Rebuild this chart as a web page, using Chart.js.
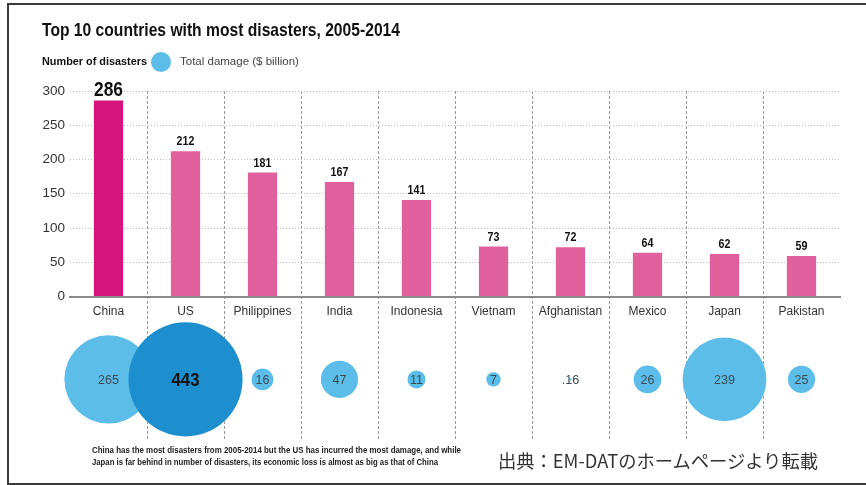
<!DOCTYPE html>
<html>
<head>
<meta charset="utf-8">
<script src="https://cdn.jsdelivr.net/npm/chart.js@4"></script>
<style>
  body { margin: 0; background: #fff; }
  #wrap { position: relative; width: 866px; height: 485px; overflow: hidden; background: #fff; }
  #frame { position: absolute; left: 7px; top: 3px; width: 880px; height: 478px;
    border-left: 2px solid #3a3a3a; border-top: 2px solid #3a3a3a; border-bottom: 2px solid #3a3a3a; }
  canvas { position: absolute; left: 0; top: 0; }
  .t { position: absolute; white-space: nowrap; color: #111; transform-origin: 0 0; }
  #title { left: 42px; top: 19px; font: bold 18.5px 'Liberation Sans', sans-serif; }
  #leg1 { left: 42px; top: 55px; font: bold 11.5px 'Liberation Sans', sans-serif; }
  #dot { position: absolute; left: 151px; top: 52px; width: 20px; height: 20px; border-radius: 50%; background: #5cbde8; }
  #leg2 { left: 180px; top: 55px; font: 11.5px 'Liberation Sans', sans-serif; color: #444; }
  .note { left: 92px; font: bold 9.5px 'Liberation Sans', sans-serif; color: #222; }
  #note1 { top: 444px; }
  #note2 { top: 456px; }
  #src { left: 498px; top: 447px; font: 18.3px 'Noto Sans CJK JP', sans-serif; color: #333; }
</style>
</head>
<body>
<div id="wrap">
  <div id="frame"></div>
  <canvas id="chart" width="866" height="485"></canvas>
  <div class="t" id="title" data-w="358">Top 10 countries with most disasters, 2005-2014</div>
  <div class="t" id="leg1" data-w="105">Number of disasters</div>
  <div id="dot"></div>
  <div class="t" id="leg2">Total damage ($ billion)</div>
  <div class="t note" id="note1" data-w="369">China has the most disasters from 2005-2014 but the US has incurred the most damage, and while</div>
  <div class="t note" id="note2" data-w="346">Japan is far behind in number of disasters, its economic loss is almost as big as that of China</div>
  <div class="t" id="src">出典：EM-DATのホームページより転載</div>
</div>
<script>
const countries = ['China', 'US', 'Philippines', 'India', 'Indonesia', 'Vietnam', 'Afghanistan', 'Mexico', 'Japan', 'Pakistan'];
const disasters = [286, 212, 181, 167, 141, 73, 72, 64, 62, 59];
const damage = [265, 443, 16, 47, 11, 7, 0.16, 26, 239, 25];
const yTicks = [0, 50, 100, 150, 200, 250, 300];

const bubbleRowY = -121;   // where the bubble row sits below the axis
const bubbleScale = 2.71;  // radius in px per sqrt($ billion)

// squeeze the bold headings to look like a condensed face
document.querySelectorAll('[data-w]').forEach(el => {
    const w = el.getBoundingClientRect().width;
    el.style.transform = 'scaleX(' + (el.dataset.w / w) + ')';
});

function fmtDamage(v) {
    return v < 1 ? String(v).replace(/^0/, '') : String(v);
}

function squeezeText(ctx, text, x, y, sx) {
    ctx.save();
    ctx.translate(x, y);
    ctx.scale(sx, 1);
    ctx.fillText(text, 0, 0);
    ctx.restore();
}

const labelPlugin = {
    id: 'labels',
    afterDatasetsDraw(chart) {
        const ctx = chart.ctx;
        ctx.save();
        ctx.textAlign = 'center';

        chart.getDatasetMeta(0).data.forEach((bar, i) => {
            const big = i === 0;
            ctx.font = big ? 'bold 20px "Liberation Sans", sans-serif' : 'bold 13px "Liberation Sans", sans-serif';
            ctx.fillStyle = '#111';
            ctx.textBaseline = 'alphabetic';
            squeezeText(ctx, disasters[i], bar.x, bar.y - (big ? 5 : 6), big ? 0.87 : 0.82);
        });

        const maxDamage = Math.max(...damage);
        chart.getDatasetMeta(1).data.forEach((pt, i) => {
            const big = damage[i] === maxDamage;
            ctx.fillStyle = big ? '#111' : '#3a4a55';
            ctx.textBaseline = 'middle';
            if (big) {
                ctx.font = 'bold 19px "Liberation Sans", sans-serif';
                squeezeText(ctx, fmtDamage(damage[i]), pt.x, pt.y + 1, 0.88);
            } else {
                ctx.font = '12.5px "Liberation Sans", sans-serif';
                ctx.fillText(fmtDamage(damage[i]), pt.x, pt.y + 1);
            }
        });
        ctx.restore();
    }
};

new Chart(document.getElementById('chart'), {
    data: {
        labels: countries,
        datasets: [{
            type: 'bar',
            data: disasters,
            backgroundColor: countries.map((c, i) => i === 0 ? '#d6157c' : '#e0609e'),
            categoryPercentage: 1,
            barPercentage: 0.38
        }, {
            type: 'bubble',
            data: countries.map((c, i) => ({ x: c, y: bubbleRowY, r: Math.sqrt(damage[i]) * bubbleScale })),
            backgroundColor: damage.map(v => v === Math.max(...damage) ? '#1d8fcf' : '#5cbde8'),
            borderWidth: 0
        }]
    },
    options: {
        responsive: false,
        animation: false,
        events: [],
        layout: { autoPadding: false, padding: { left: 0, top: 91, right: 26, bottom: 46 } },
        plugins: { legend: { display: false }, title: { display: false }, tooltip: { enabled: false } },
        scales: {
            x: {
                type: 'category',
                position: { y: 0 },
                offset: true,
                grid: {
                    offset: true,
                    drawTicks: false,
                    // only the separators between countries, not the outer edges
                    color: ctx => (ctx.type !== 'tick' || ctx.index === 0) ? 'rgba(0,0,0,0)' : '#9a9a9a',
                    lineWidth: 1
                },
                border: { display: true, color: '#8a8a8a', width: 2, dash: [3, 2] },
                ticks: {
                    padding: 8,
                    color: '#333',
                    font: { family: 'Liberation Sans', size: 12 },
                    maxRotation: 0,
                    autoSkip: false
                }
            },
            y: {
                min: -208,
                max: 300,
                afterBuildTicks: axis => { axis.ticks = yTicks.map(v => ({ value: v })); },
                afterFit: axis => { axis.width = 70; },
                border: { display: false, dash: [1, 2] },
                grid: {
                    drawTicks: false,
                    color: ctx => ctx.tick && ctx.tick.value > 0 ? '#bdbdbd' : 'rgba(0,0,0,0)',
                    lineWidth: 1
                },
                ticks: {
                    padding: 5,
                    color: '#333',
                    font: { family: 'Liberation Sans', size: 13.5 }
                }
            }
        }
    },
    plugins: [labelPlugin]
});
</script>
</body>
</html>
